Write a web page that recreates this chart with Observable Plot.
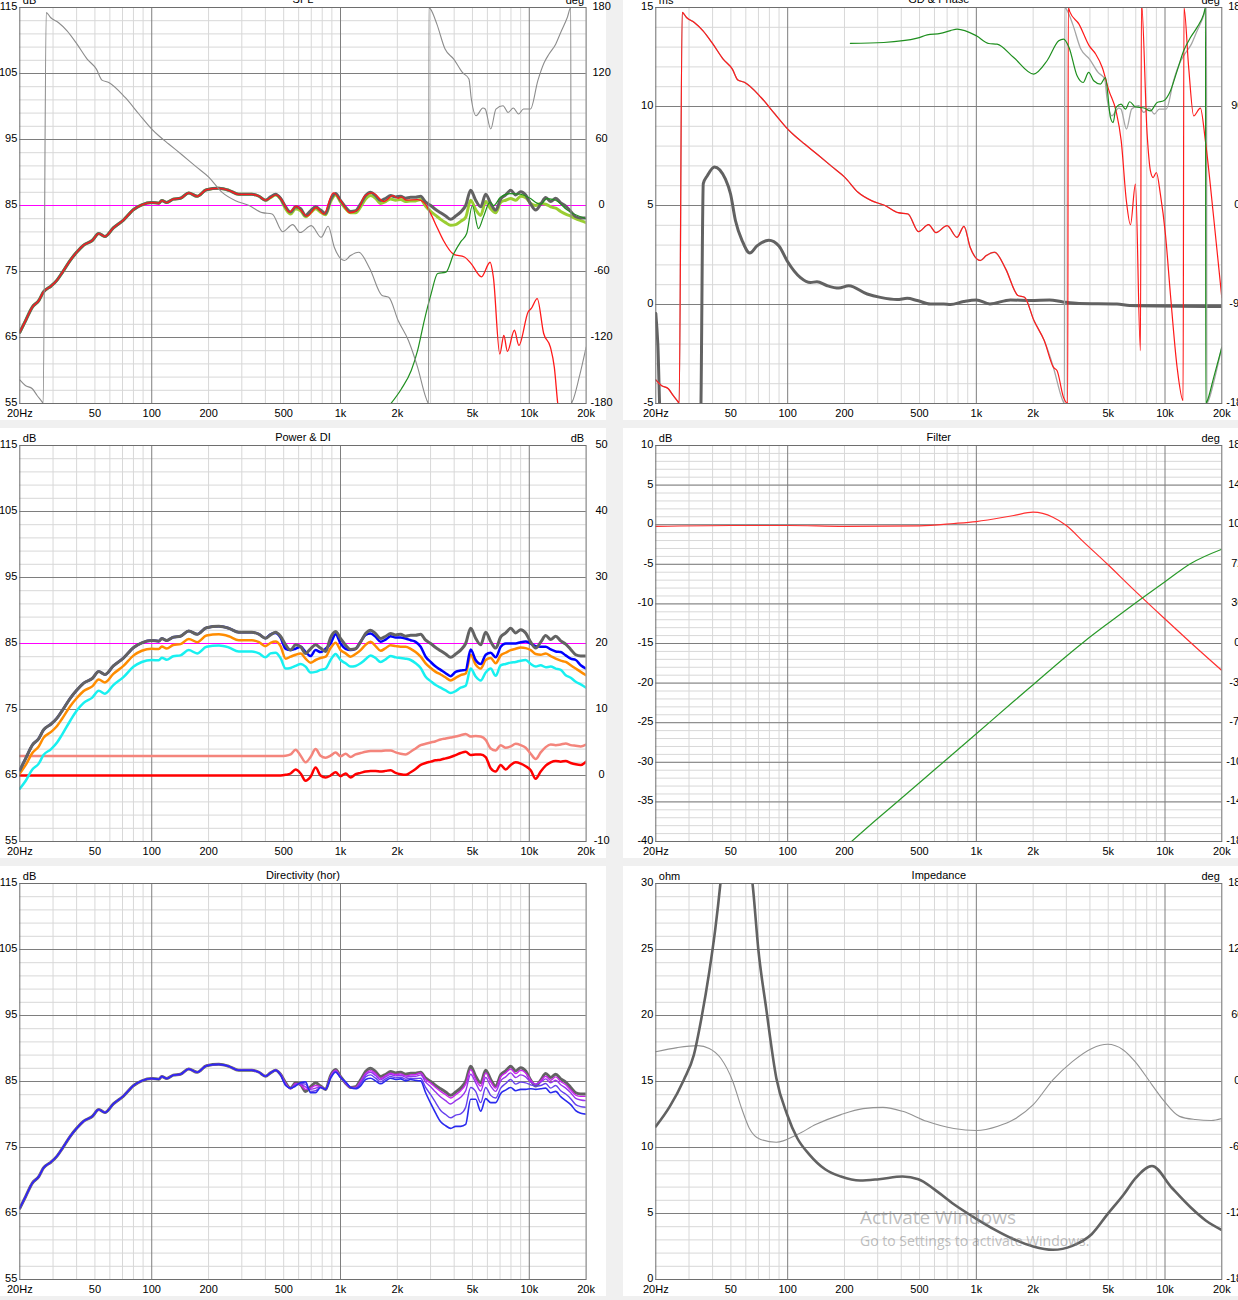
<!DOCTYPE html>
<html><head><meta charset="utf-8">
<script src="https://cdn.jsdelivr.net/npm/d3@7"></script>
<script src="https://cdn.jsdelivr.net/npm/@observablehq/plot@0.6"></script>
<style>
html,body{margin:0;padding:0;background:#f0f0f0;overflow:hidden;}
#root{position:relative;width:1238px;height:1300px;overflow:hidden;background:#f0f0f0;}
.wm{position:absolute;color:rgba(135,135,135,0.55);font-family:'Open Sans','Noto Sans',sans-serif;white-space:nowrap;pointer-events:none;}
</style></head><body><div id="root"></div>
<script>
// ---------------- DATA ----------------
const freqLF = [20, 21.5, 23.3, 25.2, 26.7, 29.3, 31.5, 33.5, 37, 40, 43.6, 48.4, 52.4, 56.5, 62.6, 70.8, 80.2, 88.6, 100, 109, 113, 120, 130, 142, 157, 174, 195, 227, 256, 289, 339, 370, 400];
const freqHF = [426, 453, 481, 512, 544, 578, 615, 653, 694, 738, 784, 834, 886, 942, 1001, 1064, 1131, 1202, 1278, 1358, 1443, 1534, 1631, 1734, 1843, 1959, 2082, 2213, 2352, 2500, 2658, 2825, 3003, 3192, 3393, 3606, 3833, 4074, 4330, 4603, 4893, 5200, 5528, 5876, 6246, 6638, 7057, 7500, 7973, 8473, 9006, 9572, 10175, 10815, 11496, 12220, 12988, 13804, 14673, 15596, 16578, 17620, 18730, 20000];

// on-axis total SPL (dB)
const onAxisLF = [65.8, 67.6, 69.6, 70.6, 71.9, 72.8, 73.7, 74.8, 76.7, 77.9, 79.0, 79.7, 80.75, 80.3, 81.6, 82.8, 84.4, 85.1, 85.45, 85.35, 85.75, 85.45, 85.96, 86.1, 86.9, 86.4, 87.4, 87.6, 87.3, 86.7, 86.7, 86.4, 85.8];
const onAxisHF = [86.3, 86.7, 86.1, 84.8, 84.0, 84.8, 84.5, 83.5, 84.2, 84.8, 84.3, 83.8, 85.9, 86.8, 85.75, 84.75, 84.1, 84.2, 85.25, 86.5, 87.0, 86.5, 85.75, 86.1, 86.5, 86.3, 86.4, 86.1, 86.25, 86.25, 86.4, 85.5, 85.0, 84.4, 83.9, 83.4, 82.9, 83.4, 84.0, 85.0, 87.3, 85.8, 84.8, 86.7, 85.3, 84.3, 86.0, 86.6, 87.3, 86.6, 87.1, 86.6, 85.2, 84.3, 85.2, 86.2, 85.6, 86.1, 85.4, 84.9, 84.1, 83.3, 83.1, 83.1];
// second total curve (yellow-green) above 400 Hz
const splAltHF = [86.2, 86.6, 86.0, 84.5, 83.7, 84.5, 84.2, 83.3, 83.9, 84.5, 84.0, 83.6, 85.6, 86.6, 85.5, 84.5, 83.9, 83.9, 84.8, 86.0, 86.5, 86.1, 85.3, 85.6, 86.0, 85.8, 85.9, 85.6, 85.7, 85.7, 85.9, 84.9, 84.1, 83.5, 82.9, 82.4, 82.0, 82.1, 82.6, 83.2, 85.8, 84.4, 83.5, 85.6, 84.5, 83.9, 85.5, 85.8, 86.05, 85.8, 86.4, 86.2, 85.3, 85.0, 85.3, 85.2, 84.8, 84.6, 84.1, 83.7, 83.4, 83.0, 82.7, 82.4];
// woofer SPL above 400 Hz
const wooferFreqHF = [426, 456, 492, 535, 586, 611, 665, 745, 816, 915, 1010, 1120, 1240, 1340, 1475, 1700, 1890, 2020, 2100, 2230, 2560, 2780, 3000, 3240, 3510, 3980, 4530, 4920, 5580, 6200, 6450, 6980, 7330, 7660, 8340, 8810, 9870, 10250, 11020, 11920, 12950, 13570, 14150, 15000];
const wooferSplHF = [86.2, 86.6, 85.7, 84.0, 84.9, 84.4, 83.4, 84.7, 83.7, 86.9, 85.6, 83.9, 84.4, 86.4, 86.9, 85.6, 86.5, 86.1, 86.3, 85.8, 85.9, 85.4, 83.8, 81.75, 79.7, 77.6, 77.2, 76.2, 74.2, 76.4, 74.2, 62.5, 65.3, 62.9, 66.1, 63.8, 68.9, 69.4, 70.9, 65.6, 63.5, 60.5, 55, 50];
// tweeter SPL
const tweeterFreq = [1850, 2100, 2370, 2560, 2780, 3020, 3270, 3620, 3980, 4330, 4660, 4994, 5380, 5720, 6200, 6470, 7020, 7940, 8980, 10150, 10920, 11500, 12400, 13800, 15900, 20000];
const tweeterSpl = [55, 57.2, 60.0, 63.0, 67.6, 71.6, 74.7, 74.9, 77.7, 79.5, 80.75, 85.0, 81.5, 83.3, 85.5, 85.0, 86.2, 86.8, 86.7, 86.05, 85.4, 85.2, 86.05, 85.8, 84.3, 83.0];
// total phase (deg)
const phaseFreq = [20, 21.4, 23.3, 24.7, 26.3, 26.6, 27.6, 29.1, 32.0, 35.6, 40.2, 45.5, 50.9, 54.5, 59.2, 72.3, 85.5, 100, 109, 123, 145, 171, 201, 236, 278, 328, 385, 434, 494, 558, 611, 700, 790, 860, 927, 1050, 1130, 1250, 1430, 1660, 1800, 2020, 2290, 2560, 2850, 2930, 2940, 3000, 3240, 3580, 3980, 4420, 4790, 4920, 5230, 5680, 5840, 6250, 6660, 7260, 7720, 8230, 8780, 9320, 10150, 11100, 12000, 12730, 13800, 14670, 15900, 16600, 16650, 16930, 18400, 20000];
const phaseDeg = [-158.5, -163.6, -166.6, -172.7, -178.8, -180, 175.5, 170.9, 166.4, 158.8, 146.7, 133.1, 124.0, 114.0, 111.9, 98.2, 83.2, 69.5, 63.4, 55.9, 45.9, 35.6, 25.6, 12.0, 4.4, 0, -6.5, -7.7, -23.8, -17.4, -24.6, -18.3, -28.9, -18.9, -37.9, -50.0, -45.5, -42.5, -57.6, -81.8, -83.4, -104.6, -122.8, -147.0, -175.8, -180, 180, 178.5, 164.9, 142.2, 133.1, 121.0, 115.0, 98.2, 81.6, 88.6, 87.7, 69.5, 87.7, 90.7, 84.6, 88.6, 83.2, 87.7, 87.7, 113.5, 130.0, 137.7, 146.7, 157.3, 170.9, 180, -180, -178, -155.9, -128.8];
// woofer phase above 2.6 kHz (deg)
const wooferPhaseFreqHF = [2680, 2900, 3050, 3070, 3130, 3500, 3960, 4290, 4650, 5050, 5500, 5860, 6240, 6560, 6970, 7410, 7500, 8040, 8370, 8650, 9000, 9450, 10050, 10680, 11590, 12470, 12600, 13350, 14190, 15400, 16370, 18110, 20000];
const wooferPhaseHF = [-150.3, -174.6, -180, 180, 176, 164.9, 145.3, 137.7, 125.5, 104.2, 86.0, 58.8, 4.3, -17.5, 19.4, -132, 185, 64.8, 31.5, 25.4, 30.0, 10.4, -25.9, -80.5, -147, -177.5, 180, 125.5, 81.5, 88.6, 58.8, -10.9, -83.7];
// tweeter phase (deg)
const tweeterPhaseFreq = [215, 323, 486, 549, 645, 729, 791, 1000, 1164, 1288, 1578, 2014, 2370, 2734, 2900, 3100, 3420, 3680, 3940, 4190, 4550, 4830, 5140, 5310, 5500, 5850, 6170, 6500, 6970, 7750, 8370, 9080, 9840, 10680, 11590, 12560, 13640, 14790, 16030, 16400, 16450, 16710, 18110, 20000];
const tweeterPhase = [147.3, 148.2, 152.1, 155.1, 156.5, 159.0, 160.4, 154.3, 147.3, 146.7, 134.5, 119.5, 131.6, 149.7, 151.3, 143.7, 117.9, 111.8, 121, 113.4, 110.4, 116.3, 79.9, 75.4, 89.1, 92.2, 87.6, 94.3, 89.6, 88.6, 86.0, 93.6, 95.2, 104.2, 122.4, 140.6, 152.7, 161.9, 174, 180, -180, -178, -156.4, -129];
// group delay (ms)
const gdFreq = [20, 20.5, 21.2, 34.5, 35.7, 37.5, 40.9, 46.8, 49.8, 52.9, 57.4, 63.0, 68.8, 79.4, 89.9, 99.4, 116.9, 132, 143, 162, 186.6, 210.8, 264, 310, 380, 430, 486, 571, 672, 729, 857, 1000, 1180, 1516, 1940, 2440, 2880, 3500, 5560, 6500, 20000];
const gdMs = [-0.45, -2.0, -6, -6, 6.1, 6.5, 6.95, 6.33, 5.58, 4.23, 3.22, 2.6, 2.96, 3.25, 2.96, 2.2, 1.36, 1.11, 1.15, 0.95, 0.83, 0.95, 0.53, 0.36, 0.25, 0.31, 0.2, 0.03, 0.03, 0.0, 0.15, 0.23, 0.03, 0.23, 0.2, 0.23, 0.13, 0.05, 0.03, -0.05, -0.1];
// power & DI
const listenWinHF = [86.4, 86.6, 85.9, 84.2, 84.0, 84.2, 84.5, 83.7, 83.1, 84.0, 83.7, 84.2, 85.0, 86.4, 85.0, 84.2, 84.0, 84.2, 85.25, 86.3, 86.5, 86.0, 85.25, 85.6, 86.1, 85.9, 85.9, 85.75, 85.5, 85.25, 84.5, 83.0, 82.2, 81.5, 81.0, 80.5, 80.05, 80.7, 80.9, 81.0, 84.1, 82.5, 81.9, 83.3, 83.6, 82.9, 84.5, 85.0, 85.0, 85.0, 85.2, 85.3, 85.0, 84.6, 84.5, 84.5, 84.1, 83.8, 83.7, 83.2, 82.7, 82.5, 81.7, 81.2];
const earlyReflLF = [65.3, 66.6, 68.4, 69.4, 70.7, 71.6, 72.5, 73.6, 75.5, 76.7, 77.8, 78.5, 79.55, 79.1, 80.4, 81.6, 83.2, 83.9, 84.2, 84.15, 84.55, 84.25, 84.76, 84.9, 85.7, 85.2, 86.2, 86.4, 86.1, 85.5, 85.5, 85.2, 84.6];
const earlyReflHF = [85.1, 85.3, 84.6, 82.7, 83.0, 83.3, 83.5, 82.7, 82.1, 82.5, 82.8, 83.0, 84.3, 85.1, 84.0, 83.5, 83.0, 83.4, 84.0, 84.8, 85.25, 84.6, 83.9, 84.3, 84.75, 84.6, 84.5, 84.5, 84.2, 83.7, 83.0, 82.0, 81.3, 80.7, 80.3, 79.85, 79.4, 79.8, 80.2, 80.45, 83.3, 81.8, 81.2, 82.5, 82.8, 82.0, 83.2, 83.6, 84.0, 84.2, 84.4, 84.3, 84.0, 83.4, 83.3, 83.5, 83.1, 82.7, 82.4, 82.2, 81.7, 81.2, 80.7, 80.2];
const soundPowerLF = [63.0, 64.2, 65.9, 66.8, 68.1, 69.0, 70.0, 71.2, 73.3, 74.8, 76.0, 76.8, 77.85, 77.4, 78.7, 79.9, 81.5, 82.2, 82.5, 82.45, 82.85, 82.55, 83.06, 83.2, 84.0, 83.5, 84.5, 84.7, 84.4, 83.8, 83.8, 83.5, 82.9];
const soundPowerHF = [83.5, 83.6, 82.8, 81.2, 81.3, 81.6, 81.9, 81.5, 80.6, 80.7, 81.0, 81.2, 82.5, 83.4, 82.5, 82.0, 81.5, 81.6, 82.0, 82.6, 83.2, 82.8, 82.2, 82.6, 83.1, 82.9, 82.8, 82.7, 82.5, 82.0, 81.3, 79.95, 79.3, 78.7, 78.3, 77.9, 77.5, 77.8, 78.3, 78.6, 81.2, 80.0, 79.4, 80.6, 81.2, 80.1, 81.7, 81.9, 82.1, 82.2, 82.4, 82.5, 81.9, 81.5, 81.7, 81.4, 81.5, 81.2, 81.0, 80.2, 79.8, 79.2, 78.8, 78.3];
const diEarlyHF = [2.95, 2.95, 2.95, 3.0, 3.2, 3.9, 3.0, 2.0, 2.8, 4.0, 3.0, 2.7, 3.0, 3.5, 2.9, 3.3, 2.8, 3.2, 3.4, 3.6, 3.7, 3.7, 3.7, 3.8, 3.8, 3.5, 3.3, 3.2, 3.6, 4.1, 4.6, 4.8, 5.0, 5.2, 5.45, 5.6, 5.75, 5.9, 6.1, 6.3, 5.9, 6.0, 5.9, 5.4, 4.1, 3.8, 4.6, 4.2, 4.4, 4.8, 4.6, 4.2, 3.3, 2.5, 3.5, 4.3, 4.7, 4.6, 4.7, 4.85, 4.6, 4.5, 4.4, 4.7];
const diPowerHF = [0.0, 0.0, 0.0, 0.1, 0.3, 0.9, 0.3, -0.8, -0.2, 1.2, 0.0, -0.3, 0.0, 0.5, -0.1, 0.3, -0.3, 0.2, 0.4, 0.6, 0.7, 0.7, 0.6, 0.7, 0.8, 0.4, 0.2, 0.1, 0.5, 1.0, 1.6, 1.9, 2.1, 2.3, 2.4, 2.6, 2.8, 3.1, 3.4, 3.6, 3.1, 3.2, 3.2, 2.8, 1.1, 0.6, 1.6, 0.9, 1.6, 2.0, 1.8, 1.4, 0.8, -0.5, 0.6, 1.5, 2.0, 2.2, 2.1, 2.2, 1.9, 1.7, 1.6, 2.1];
const diEarlyLow = 2.95, diPowerLow = 0.0;
// directivity (hor) off-axis curves above 400 Hz
const dir10HF = [86.3, 86.7, 86.1, 84.7, 83.9, 84.7, 84.5, 83.8, 84.0, 84.4, 84.2, 83.8, 85.8, 86.7, 85.7, 84.75, 84.1, 84.1, 85.05, 86.2, 86.65, 86.2, 85.45, 85.9, 86.25, 86.05, 86.15, 85.85, 86.0, 86.05, 86.3, 85.3, 84.75, 84.1, 83.5, 83.0, 82.5, 83.0, 83.6, 84.6, 86.8, 85.3, 84.3, 86.3, 85.0, 84.0, 85.7, 86.3, 86.9, 86.2, 86.7, 86.3, 85.2, 84.6, 85.1, 85.8, 85.2, 85.7, 85.0, 84.5, 83.7, 82.95, 82.75, 82.75];
const dir20HF = [86.3, 86.7, 86.1, 84.6, 83.9, 84.6, 84.6, 84.2, 83.8, 84.0, 84.2, 83.8, 85.7, 86.6, 85.7, 84.75, 84.1, 84.0, 84.85, 86.0, 86.4, 85.9, 85.25, 85.7, 86.05, 85.85, 85.95, 85.65, 85.8, 85.8, 86.0, 84.9, 84.2, 83.4, 82.65, 82.1, 81.6, 82.1, 82.6, 83.6, 86.1, 84.8, 83.55, 85.6, 84.3, 83.5, 85.1, 85.7, 86.3, 85.6, 86.0, 85.7, 84.9, 84.6, 84.9, 85.4, 84.8, 85.2, 84.5, 84.0, 83.3, 82.45, 82.2, 82.1];
const dir30HF = [86.3, 86.7, 86.1, 84.5, 84.0, 84.4, 84.7, 84.6, 83.5, 83.6, 84.1, 83.8, 85.6, 86.5, 85.6, 84.85, 84.1, 84.0, 84.65, 85.7, 86.0, 85.5, 84.95, 85.4, 85.75, 85.55, 85.65, 85.35, 85.5, 85.45, 85.5, 84.1, 83.0, 81.8, 80.6, 80.0, 79.5, 79.9, 80.1, 81.1, 84.1, 83.5, 81.8, 84.1, 82.9, 82.5, 84.0, 84.7, 85.3, 84.6, 84.9, 84.8, 84.5, 84.3, 84.4, 84.7, 84.0, 84.4, 83.6, 83.1, 82.4, 81.5, 81.2, 81.1];
const dir40HF = [86.3, 86.7, 86.0, 84.4, 84.0, 84.3, 84.85, 84.95, 83.3, 83.3, 84.1, 83.8, 85.5, 86.4, 85.6, 84.95, 84.1, 83.9, 84.35, 85.3, 85.5, 85.1, 84.65, 85.1, 85.5, 85.3, 85.4, 85.1, 85.3, 85.15, 85.1, 83.3, 81.7, 80.2, 78.9, 78.3, 77.9, 78.2, 78.2, 78.5, 82.3, 82.3, 80.5, 82.4, 81.8, 81.8, 83.2, 83.7, 84.1, 83.6, 83.8, 83.8, 83.9, 83.8, 83.9, 84.0, 83.3, 83.5, 82.7, 82.1, 81.5, 80.6, 80.2, 80.05];
// filter (dB)
const filterWooferFreq = [20, 50, 100, 200, 500, 760, 1000, 1579, 2000, 2545, 3000, 3710, 4960, 6690, 10000, 13700, 20000];
const filterWoofer = [-0.22, -0.1, -0.1, -0.22, -0.14, 0.15, 0.4, 1.16, 1.58, 0.95, -0.1, -2.2, -5.0, -8.0, -11.9, -14.9, -18.4];
const filterTweeterFreq = [218, 300, 372, 600, 1000, 1579, 2000, 3000, 3710, 4960, 6690, 10000, 13700, 20000];
const filterTweeter = [-40, -37.1, -35.2, -30.95, -26.4, -22.3, -20.2, -16.6, -14.8, -12.5, -10.2, -7.2, -4.9, -3.1];
// impedance
const impFreq = [20, 23.7, 28.1, 31.8, 34.9, 38.4, 41.3, 44.0, 46, 60, 65.1, 69.9, 77.0, 87.1, 99.3, 112.5, 129.7, 157.9, 191.6, 241.8, 305, 407, 493, 597, 760, 1000, 1243, 1579, 2003, 2545, 3227, 4098, 4960, 6011, 7000, 8532, 10860, 13700, 16500, 20000];
const impOhm = [11.6, 13.1, 15.1, 17.0, 19.8, 23.3, 26.5, 30.0, 33, 33, 30.0, 25.0, 20.5, 15.25, 12.5, 10.7, 9.5, 8.35, 7.8, 7.5, 7.6, 7.8, 7.6, 6.85, 5.7, 4.6, 3.8, 3.05, 2.5, 2.25, 2.55, 3.45, 4.95, 6.4, 7.7, 8.6, 6.95, 5.45, 4.45, 3.75];
const impPhaseFreq = [20, 26, 33.5, 38.4, 44.2, 51.2, 56.9, 62.5, 71.9, 87, 112.5, 140.6, 191.6, 251, 320, 407, 546, 760, 1000, 1300, 1579, 2003, 2545, 3227, 4098, 4960, 6011, 6940, 8532, 9850, 11940, 14500, 17600, 20000];
const impPhase = [27.1, 30.8, 32.6, 30.1, 21.1, 0.0, -24.1, -42.2, -52.7, -55.2, -48.2, -39.2, -30.1, -24.7, -23.5, -27.1, -36.2, -42.8, -44.6, -40.7, -34.6, -21.1, 1.5, 18.1, 30.1, 33.8, 28.7, 18.1, -3.0, -17.4, -31.7, -34.6, -35.5, -33.7];

// tick labels
const xTickFreqs = [20, 50, 100, 200, 500, 1000, 2000, 5000, 10000, 20000];
const xTickLabels = ["20Hz", "50", "100", "200", "500", "1k", "2k", "5k", "10k", "20k"];
const xMinor = [30, 40, 50, 60, 70, 80, 90, 200, 300, 400, 500, 600, 700, 800, 900, 2000, 3000, 4000, 5000, 6000, 7000, 8000, 9000];
const xMajor = [100, 1000, 10000];
const splTicks = [115, 105, 95, 85, 75, 65, 55];
const degTicks6 = [180, 120, 60, 0, -60, -120, -180];
const msTicks = [15, 10, 5, 0, -5];
const degTicks4 = [180, 90, 0, -90, -180];
const diTicks = [50, 40, 30, 20, 10, 0, -10];
const filterTicks = [10, 5, 0, -5, -10, -15, -20, -25, -30, -35, -40];
const filterDegTicks = [180, 144, 108, 72, 36, 0, -36, -72, -108, -144, -180];
const ohmTicks = [30, 25, 20, 15, 10, 5, 0];

// ---------------- DRAWING ----------------
const root = document.getElementById("root");
const FONT = "'Liberation Sans',Arial,sans-serif";
const FS = 11;
const freqAll = freqLF.concat(freqHF);
const onAxisAll = onAxisLF.concat(onAxisHF);

function toRows(fs, vs) { return fs.map((f, i) => ({f, v: vs[i]})); }
function steps(a, b, s) { const n = Math.round((b - a) / s); return Array.from({length: n + 1}, (_, i) => +(a + i * s).toFixed(6)); }
function line(fs, vs, stroke, w, map) {
  return Plot.line(toRows(fs, vs), {x: "f", y: map ? (d => map(d.v)) : "v", stroke, strokeWidth: w, curve: "monotone-x", clip: true});
}

function panel(o) {
  const left = o.col === 0 ? 0 : 623;
  const width = o.col === 0 ? 606 : 615;
  const mL = o.col === 0 ? 19.3 : 32.3;
  const mR = o.col === 0 ? 20.4 : 16.7;
  const top = [-10, 428, 866][o.row];
  const [y0, y1] = o.yDomain;
  const txt = {fontSize: FS, fill: "#000", fontFamily: FONT};
  const marks = [
    Plot.ruleX(xMinor, {stroke: "#d8d8d8", strokeWidth: 1}),
    Plot.ruleY(steps(y0, y1, o.minor), {stroke: "#d8d8d8", strokeWidth: 1}),
    Plot.ruleX(xMajor, {stroke: "#7e7e7e", strokeWidth: 1}),
    Plot.ruleY(steps(y0, y1, o.major), {stroke: "#7e7e7e", strokeWidth: 1}),
    ...o.marks,
    Plot.frame({stroke: "#6e6e6e", strokeWidth: 1}),
    Plot.text(xTickFreqs, {x: d => d, text: (d, i) => xTickLabels[i], frameAnchor: "bottom", dy: 9.5, lineAnchor: "middle", ...txt}),
    Plot.text(o.leftTicks, {y: d => d, text: d => String(d), frameAnchor: "left", textAnchor: "end", dx: -2.5, dy: -1, lineAnchor: "middle", ...txt}),
    Plot.text([o.title], {text: d => d, frameAnchor: "top", dy: -5, lineAnchor: "bottom", ...txt}),
    Plot.text([o.unitL], {text: d => d, frameAnchor: "top-left", textAnchor: "start", dx: 3, dy: -3.5, lineAnchor: "bottom", ...txt})
  ];
  if (o.rightTicks) {
    marks.push(Plot.text(o.rightTicks, {y: d => o.rightMap(d), text: d => String(d), frameAnchor: "right", textAnchor: "middle", dx: 15.5, dy: -1, lineAnchor: "middle", ...txt}));
  }
  if (o.unitR) {
    marks.push(Plot.text([o.unitR], {text: d => d, frameAnchor: "top-right", textAnchor: "end", dx: -2, dy: -3.5, lineAnchor: "bottom", ...txt}));
  }
  const svg = Plot.plot({
    width, height: 430, marginTop: 17, marginBottom: 17, marginLeft: mL, marginRight: mR,
    x: {type: "log", domain: [20, 20000], axis: null},
    y: {domain: [y0, y1], axis: null},
    style: {background: "#ffffff", fontFamily: FONT, fontSize: FS + "px", color: "#000", overflow: "visible"},
    marks
  });
  svg.style.position = "absolute";
  svg.style.left = left + "px";
  svg.style.top = top + "px";
  root.appendChild(svg);
}

const degToSpl = d => 85 + d / 6;
const degToMs = d => 5 + d / 18;
const diToDb = d => 65 + d;
const degToFilter = d => -15 + d / 7.2;
const degToOhm = d => 15 + d / 12;

// SPL
panel({col: 0, row: 0, yDomain: [55, 115], minor: 2, major: 10, title: "SPL", unitL: "dB", unitR: "deg",
  leftTicks: splTicks, rightTicks: degTicks6, rightMap: degToSpl,
  marks: [
    Plot.ruleY([85], {stroke: "#ff00ff", strokeWidth: 1}),
    line(freqAll, onAxisLF.concat(splAltHF), "#9acd32", 3),
    line(freqAll, onAxisAll, "#626262", 3),
    line(freqLF.concat(wooferFreqHF), onAxisLF.concat(wooferSplHF), "#ff1a1a", 1.3),
    line(tweeterFreq, tweeterSpl, "#1f8f1f", 1.2),
    line(phaseFreq, phaseDeg, "#8c8c8c", 1.1, degToSpl)
  ]});

// GD & Phase
const wooferPhaseFreq = phaseFreq.filter(f => f <= 2560).concat(wooferPhaseFreqHF);
const wooferPhase = phaseDeg.filter((_, i) => phaseFreq[i] <= 2560).concat(wooferPhaseHF);
panel({col: 1, row: 0, yDomain: [-5, 15], minor: 1, major: 5, title: "GD & Phase", unitL: "ms", unitR: "deg",
  leftTicks: msTicks, rightTicks: degTicks4, rightMap: degToMs,
  marks: [
    line(gdFreq, gdMs, "#626262", 3),
    line(phaseFreq, phaseDeg, "#a6a6a6", 1.3, degToMs),
    line(wooferPhaseFreq, wooferPhase, "#ff1a1a", 1.2, degToMs),
    line(tweeterPhaseFreq, tweeterPhase, "#1f8f1f", 1.2, degToMs)
  ]});

// Power & DI
panel({col: 0, row: 1, yDomain: [55, 115], minor: 2, major: 10, title: "Power & DI", unitL: "dB", unitR: "dB",
  leftTicks: splTicks, rightTicks: diTicks, rightMap: diToDb,
  marks: [
    Plot.ruleY([85], {stroke: "#ff00ff", strokeWidth: 1}),
    line([20].concat(freqHF), [diEarlyLow].concat(diEarlyHF), "#f4857c", 2.5, diToDb),
    line([20].concat(freqHF), [diPowerLow].concat(diPowerHF), "#ff0000", 2.5, diToDb),
    line(freqAll, soundPowerLF.concat(soundPowerHF), "#18f0f0", 2.5),
    line(freqAll, earlyReflLF.concat(earlyReflHF), "#ff8c00", 2.5),
    line(freqAll, onAxisLF.concat(listenWinHF), "#0000ff", 2.5),
    line(freqAll, onAxisAll, "#636363", 3)
  ]});

// Filter
panel({col: 1, row: 1, yDomain: [-40, 10], minor: 1, major: 5, title: "Filter", unitL: "dB", unitR: "deg",
  leftTicks: filterTicks, rightTicks: filterDegTicks, rightMap: degToFilter,
  marks: [
    line(filterWooferFreq, filterWoofer, "#ff3030", 1.2),
    line(filterTweeterFreq, filterTweeter, "#2a9a2a", 1.2)
  ]});

// Directivity (hor)
panel({col: 0, row: 2, yDomain: [55, 115], minor: 2, major: 10, title: "Directivity (hor)", unitL: "dB",
  leftTicks: splTicks,
  marks: [
    line(freqAll, onAxisAll, "#636363", 3),
    line(freqAll, onAxisLF.concat(dir10HF), "#cc22ee", 1.4),
    line(freqAll, onAxisLF.concat(dir20HF), "#9933ee", 1.4),
    line(freqAll, onAxisLF.concat(dir30HF), "#6640ee", 1.4),
    line(freqAll, onAxisLF.concat(dir40HF), "#2a2aee", 1.6)
  ]});

// Impedance
panel({col: 1, row: 2, yDomain: [0, 30], minor: 1, major: 5, title: "Impedance", unitL: "ohm", unitR: "deg",
  leftTicks: ohmTicks, rightTicks: degTicks6, rightMap: degToOhm,
  marks: [
    line(impPhaseFreq, impPhase, "#939393", 1.1, degToOhm),
    line(impFreq, impOhm, "#626262", 2.6)
  ]});

// OS watermark present in the reference screenshot
const w1 = document.createElement("div");
w1.className = "wm"; w1.textContent = "Activate Windows";
w1.style.left = "860px"; w1.style.top = "1204px"; w1.style.fontSize = "19px";
root.appendChild(w1);
const w2 = document.createElement("div");
w2.className = "wm"; w2.textContent = "Go to Settings to activate Windows.";
w2.style.left = "860px"; w2.style.top = "1231px"; w2.style.fontSize = "14px";
root.appendChild(w2);
</script></body></html>
